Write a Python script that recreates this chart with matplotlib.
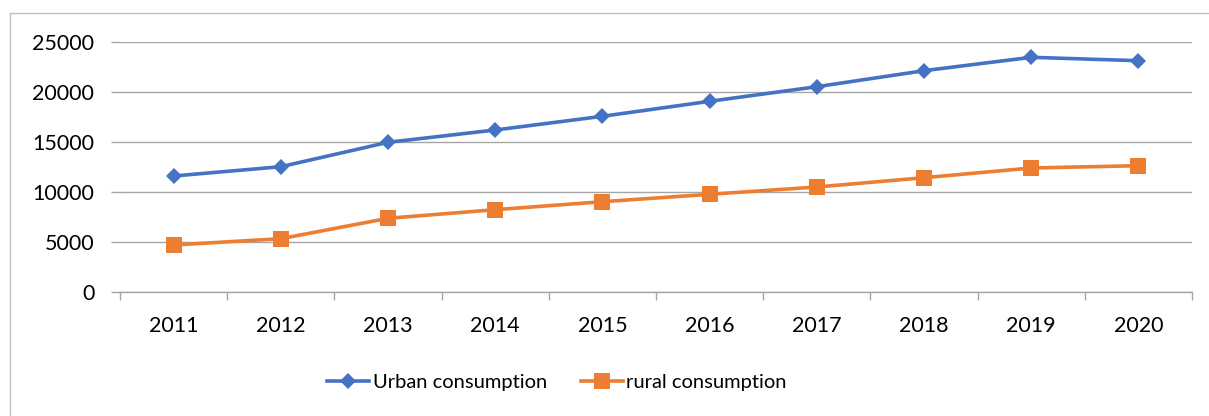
import numpy as np
import matplotlib.pyplot as plt
from matplotlib.patches import Rectangle

years = ["2011", "2012", "2013", "2014", "2015", "2016", "2017", "2018", "2019", "2020"]
urban = [11600, 12530, 14970, 16200, 17570, 19070, 20530, 22130, 23470, 23130]
rural = [4700, 5330, 7370, 8230, 9030, 9770, 10500, 11430, 12400, 12630]

BLUE = "#4472C4"
ORANGE = "#ED7D31"
GRID = "#A6A6A6"

plt.rcParams["font.family"] = ["Lato", "DejaVu Sans"]

fig = plt.figure(figsize=(12.09, 4.16), dpi=100)
W, H = 1209, 416

# chart frame
fig.patches.append(Rectangle((10 / W, -0.05), 1.2, 1 - 13 / H + 0.05,
                             transform=fig.transFigure, fill=False,
                             edgecolor="#BFBFBF", linewidth=1.0))

ax = fig.add_axes([120 / W, 1 - 292 / H, (1192 - 120) / W, (292 - 42) / H])

x = np.arange(len(years))
ax.plot(x, urban, color=BLUE, linewidth=2.6, marker="D", markersize=8.2,
        markeredgewidth=0, label="Urban consumption")
ax.plot(x, rural, color=ORANGE, linewidth=2.6, marker="s", markersize=12,
        markeredgewidth=0, label="rural consumption")

ax.set_xlim(-0.5, len(years) - 0.5)
ax.set_ylim(0, 25000)
ax.set_yticks(np.arange(0, 25001, 5000))
ax.yaxis.grid(True, color=GRID, linewidth=1.0)
ax.set_axisbelow(True)

# category boundaries as major ticks, labels at centres
ax.set_xticks(np.arange(-0.5, len(years), 1.0))
ax.set_xticklabels([])
ax.set_xticks(x, minor=True)
ax.set_xticklabels(years, minor=True)
ax.tick_params(axis="x", which="major", length=6, color=GRID, width=1.0)
ax.tick_params(axis="x", which="minor", length=0, pad=17, labelsize=15.5)
ax.tick_params(axis="y", length=6.5, color=GRID, width=1.0, pad=12, labelsize=15.5)

for side in ["top", "right", "left"]:
    ax.spines[side].set_visible(False)
ax.spines["bottom"].set_color(GRID)
ax.spines["bottom"].set_linewidth(1.0)

fig.legend(loc="center", bbox_to_anchor=(557 / W, 1 - 382 / H), ncol=2,
           frameon=False, fontsize=14.5, handlelength=2.1, handletextpad=0.15,
           columnspacing=1.7)

fig.savefig("out.png", dpi=100)
